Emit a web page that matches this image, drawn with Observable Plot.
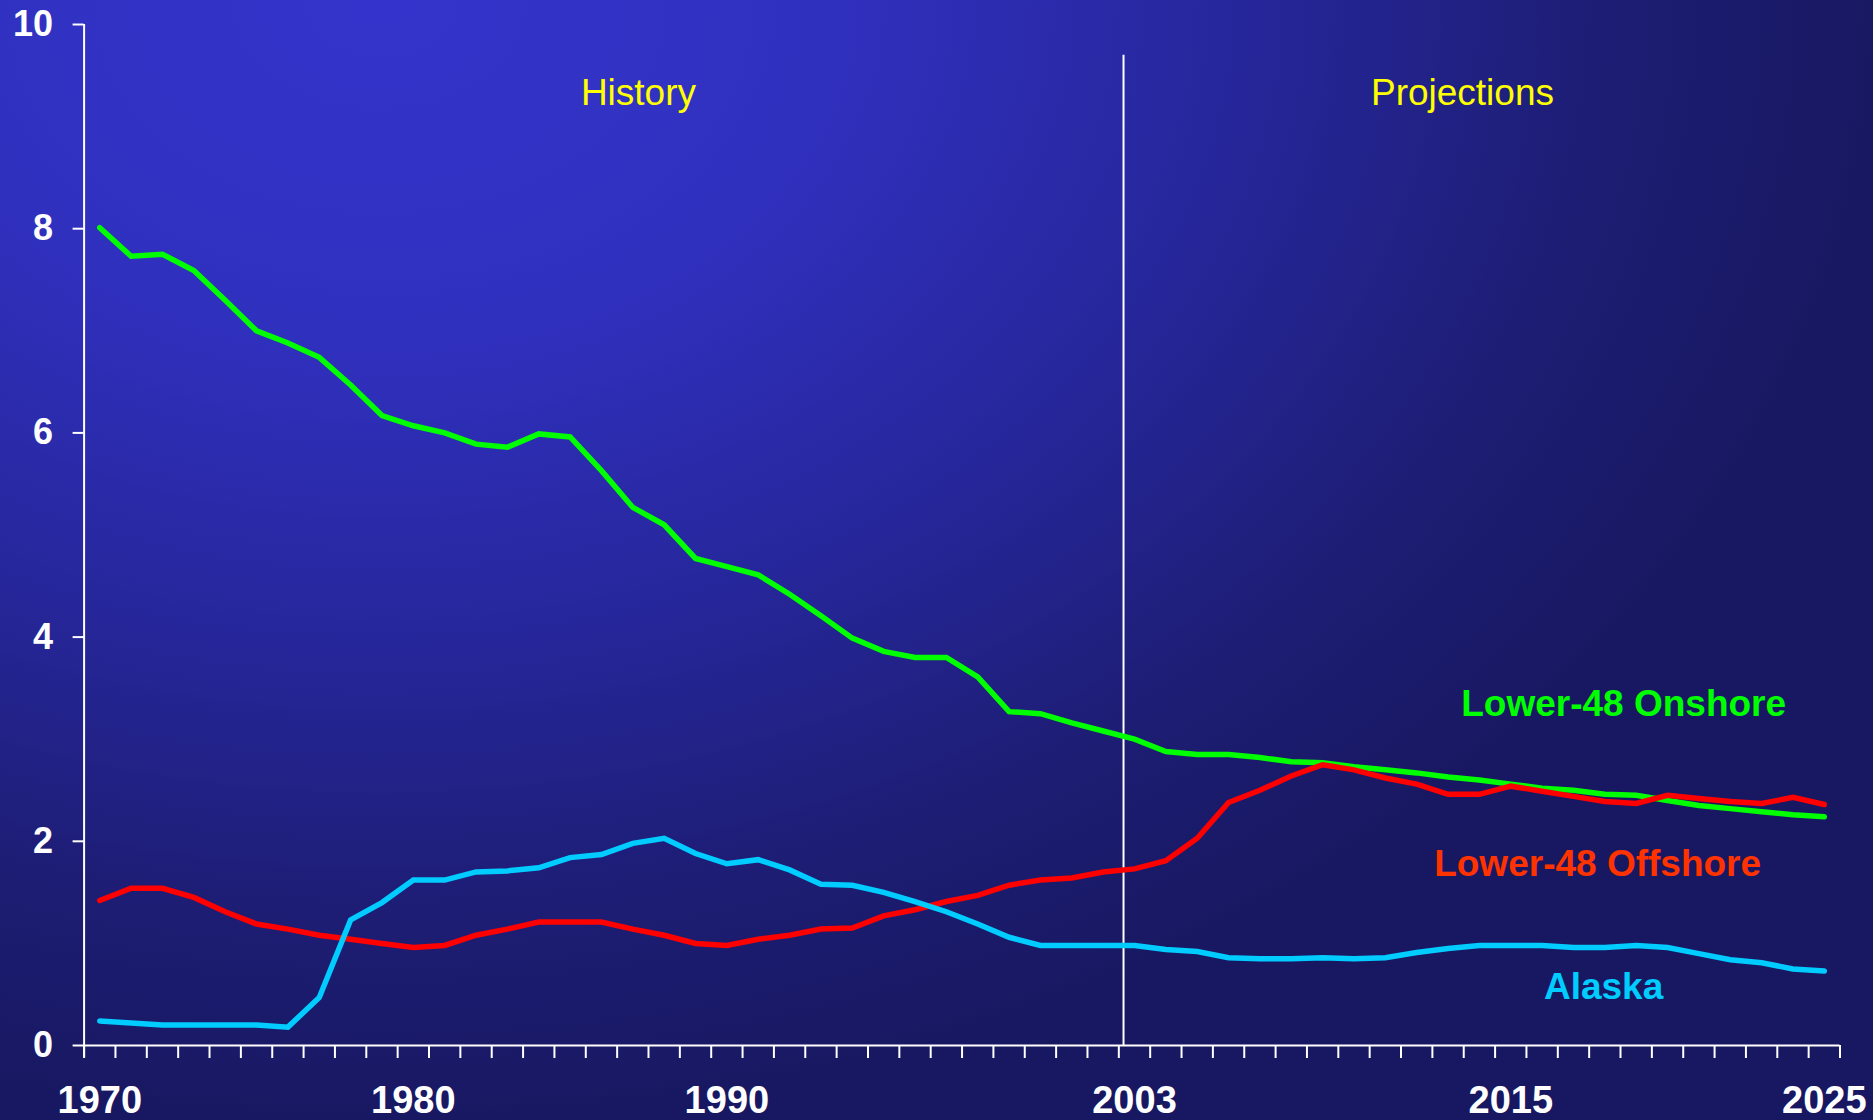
<!DOCTYPE html>
<html>
<head>
<meta charset="utf-8">
<script src="https://cdn.jsdelivr.net/npm/d3@7"></script>
<script src="https://cdn.jsdelivr.net/npm/@observablehq/plot@0.6"></script>
<style>
  html, body { margin: 0; padding: 0; width: 1873px; height: 1120px; overflow: hidden; }
  body {
    background: radial-gradient(ellipse 1500px 1120px at 380px 0px,
      #3434cc 0%, #3030bf 30%, #26269a 58%, #1d1d74 82%, #181862 100%);
    font-family: "Liberation Sans", Arial, sans-serif;
  }
  #chart svg { display: block; }
</style>
</head>
<body>
<div id="chart"></div>
<script>
// Years shown on the chart (one value per year, 1970–2025)
const years = d3.range(1970, 2026);

// Lower-48 Onshore
const onshore = [
  8.01, 7.73, 7.75, 7.59, 7.30, 7.00, 6.88, 6.74, 6.47, 6.17,
  6.07, 6.00, 5.89, 5.86, 5.99, 5.96, 5.63, 5.27, 5.10, 4.77,
  4.69, 4.61, 4.42, 4.21, 3.99, 3.86, 3.80, 3.80, 3.61, 3.27,
  3.25, 3.16, 3.08, 3.00, 2.88, 2.85, 2.85, 2.82, 2.78, 2.77,
  2.73, 2.70, 2.67, 2.63, 2.60, 2.56, 2.52, 2.50, 2.46, 2.45,
  2.40, 2.35, 2.32, 2.29, 2.26, 2.24
];

// Lower-48 Offshore
const offshore = [
  1.42, 1.54, 1.54, 1.45, 1.31, 1.19, 1.14, 1.08, 1.04, 1.00,
  0.96, 0.98, 1.08, 1.14, 1.21, 1.21, 1.21, 1.14, 1.08, 1.00,
  0.98, 1.04, 1.08, 1.14, 1.15, 1.27, 1.33, 1.41, 1.47, 1.57,
  1.62, 1.64, 1.70, 1.73, 1.81, 2.03, 2.38, 2.50, 2.64, 2.75,
  2.70, 2.62, 2.56, 2.46, 2.46, 2.54, 2.49, 2.44, 2.39, 2.37,
  2.45, 2.42, 2.39, 2.37, 2.43, 2.36
];

// Alaska
const alaska = [
  0.24, 0.22, 0.20, 0.20, 0.20, 0.20, 0.18, 0.47, 1.23, 1.40,
  1.62, 1.62, 1.70, 1.71, 1.74, 1.84, 1.87, 1.98, 2.03, 1.88,
  1.78, 1.82, 1.72, 1.58, 1.57, 1.50, 1.41, 1.31, 1.19, 1.06,
  0.98, 0.98, 0.98, 0.98, 0.94, 0.92, 0.86, 0.85, 0.85, 0.86,
  0.85, 0.86, 0.91, 0.95, 0.98, 0.98, 0.98, 0.96, 0.96, 0.98,
  0.96, 0.90, 0.84, 0.81, 0.75, 0.73
];

// Axis tick labels
const yTickValues = [0, 2, 4, 6, 8, 10];
const xTickLabels = [1970, 1980, 1990, 2003, 2015, 2025];

// Series names / colours
const seriesNames = ["Lower-48 Onshore", "Lower-48 Offshore", "Alaska"];
const lineColors = ["#00ff00", "#ff0000", "#00ccff"];
const labelColors = ["#00ff00", "#ff3300", "#00ccff"];

const FONT = "'Liberation Sans', Arial, sans-serif";
const rows = (vals) => years.map((yr, i) => ({year: yr, value: vals[i]}));

const yearTicks = d3.range(1969.5, 2026, 1);

const chart = Plot.plot({
  width: 1873,
  height: 1120,
  marginLeft: 83.6,
  marginRight: 33.5,
  marginTop: 24,
  marginBottom: 75,
  x: {domain: [1969.5, 2025.5]},
  y: {domain: [0, 10]},
  style: {background: "transparent", color: "white", fontFamily: FONT, overflow: "visible"},
  marks: [
    // Y axis
    Plot.axisY({ticks: yTickValues, tickSize: 11, tickPadding: 20, fontSize: 36, fontWeight: "bold",
      stroke: "white", strokeWidth: 2, strokeOpacity: 1, label: null, tickFormat: "d", fill: "white"}),
    // X axis minor ticks (one per year boundary)
    Plot.axisX({ticks: yearTicks, tickSize: 13, tickFormat: () => "", stroke: "white", strokeWidth: 2,
      strokeOpacity: 1, label: null}),
    // X axis labels
    Plot.axisX({ticks: xTickLabels, tickSize: 0, tickPadding: 41, fontSize: 38, fontWeight: "bold",
      tickFormat: "d", label: null, fill: "white"}),
    // Axis lines
    Plot.ruleX([1969.5], {y1: -0.12, y2: 10, stroke: "white", strokeWidth: 2}),
    Plot.ruleY([0], {x1: 1969.5, x2: 2025.5, stroke: "white", strokeWidth: 2}),
    // History / projections divider
    Plot.ruleX([2002.65], {y1: 0, y2: 9.7, stroke: "white", strokeWidth: 2}),
    // Series lines
    Plot.lineY(rows(onshore), {x: "year", y: "value", stroke: lineColors[0], strokeWidth: 5.5,
      strokeLinejoin: "miter", strokeMiterlimit: 2, strokeLinecap: "round"}),
    Plot.lineY(rows(offshore), {x: "year", y: "value", stroke: lineColors[1], strokeWidth: 5.5,
      strokeLinejoin: "miter", strokeMiterlimit: 2, strokeLinecap: "round"}),
    Plot.lineY(rows(alaska), {x: "year", y: "value", stroke: lineColors[2], strokeWidth: 5.5,
      strokeLinejoin: "miter", strokeMiterlimit: 2, strokeLinecap: "round"}),
    // Section headings
    Plot.text(["History"], {x: 1987.18, y: 9.21, text: d => d, fill: "#ffff00", fontSize: 37,
      textAnchor: "middle", lineAnchor: "bottom", fontFamily: FONT}),
    Plot.text(["Projections"], {x: 2013.46, y: 9.21, text: d => d, fill: "#ffff00", fontSize: 37,
      textAnchor: "middle", lineAnchor: "bottom", fontFamily: FONT}),
    // Series labels
    Plot.text([seriesNames[0]], {x: 2018.6, y: 3.23, text: d => d, fill: labelColors[0], fontSize: 37,
      fontWeight: "bold", textAnchor: "middle", lineAnchor: "bottom", fontFamily: FONT}),
    Plot.text([seriesNames[1]], {x: 2017.77, y: 1.665, text: d => d, fill: labelColors[1], fontSize: 37,
      fontWeight: "bold", textAnchor: "middle", lineAnchor: "bottom", fontFamily: FONT}),
    Plot.text([seriesNames[2]], {x: 2017.96, y: 0.46, text: d => d, fill: labelColors[2], fontSize: 37,
      fontWeight: "bold", textAnchor: "middle", lineAnchor: "bottom", fontFamily: FONT})
  ]
});

document.getElementById("chart").appendChild(chart);
</script>
</body>
</html>
